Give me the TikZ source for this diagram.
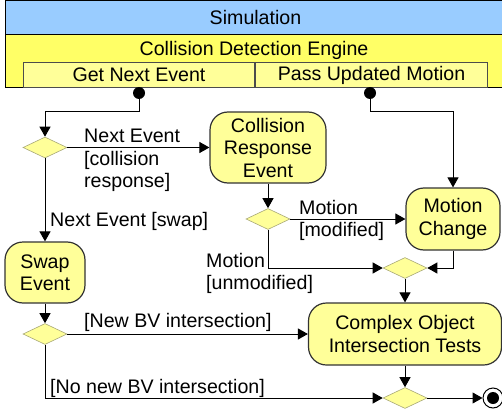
\documentclass[tikz,border=0pt]{standalone}
\usepackage{fontspec}
\setmainfont{Liberation Sans}
\usetikzlibrary{arrows.meta,positioning,shapes.geometric}
\definecolor{simblue}{HTML}{99CCFF}
\definecolor{engyellow}{HTML}{FFFF66}
\definecolor{actyellow}{HTML}{FFFF99}
\definecolor{decborder}{HTML}{A8A878}

\begin{document}
\begin{tikzpicture}[x=1pt,y=-1pt,font=\fontsize{19.6}{22.5}\selectfont]
\tikzstyle{lane}=[rectangle,draw,line width=1pt,anchor=north west,inner sep=0pt]
\tikzstyle{activity}=[rectangle,rounded corners=18pt,draw=black!80,line width=1.2pt,fill=actyellow,align=center,inner sep=0pt]
\tikzstyle{decision}=[diamond,draw=decborder,line width=0.6pt,fill=actyellow,minimum width=44pt,minimum height=21pt,inner sep=0pt]
\tikzstyle{flow}=[line width=1pt,-{Triangle[length=10pt,width=11pt]}]
\tikzstyle{startdot}=[circle,fill=black,minimum size=12pt,inner sep=0pt]
\tikzstyle{guard}=[align=left,inner sep=0pt,anchor=north west]
\useasboundingbox (0,0) rectangle (502,414);
% swimlanes
\node[lane,fill=simblue,minimum width=500pt,minimum height=34.5pt] (sim) at (5,0) {Simulation};
\node[lane,fill=engyellow,minimum width=500pt,minimum height=52.5pt] (engine) at (5,34.5) {};
\node (enginelabel) at (254,50) {Collision Detection Engine};
\node[lane,draw=black!70,fill=actyellow,minimum width=231pt,minimum height=25pt] (getnext) at (23,62) {Get Next Event};
\node[lane,draw=black!70,fill=actyellow,minimum width=232pt,minimum height=25pt] (passmotion) at (getnext.north east) {Pass Updated Motion};
% activities and decisions
\node[startdot] (start1) at (139,93) {};
\node[startdot] (start2) at (370,93) {};
\node[decision] (dnext) at (45,147.5) {};
\node[activity,minimum width=116pt,minimum height=71pt] (collresp) at (268,147.5) {Collision\\Response\\Event};
\node[activity,minimum width=80pt,minimum height=61pt] (swap) at (45,272.5) {Swap\\Event};
\node[decision] (dmotion) at (268,219) {};
\node[activity,minimum width=94pt,minimum height=62pt] (motionchg) at (453,219) {Motion\\Change};
\node[decision] (dmerge) at (405,268) {};
\node[activity,minimum width=193pt,minimum height=62pt] (complex) at (405,334) {Complex Object\\Intersection Tests};
\node[decision] (dswap) at (45,334) {};
\node[decision] (dend) at (405,398) {};
\node[circle,draw,line width=1pt,fill=white,minimum size=20pt,inner sep=0pt] (stop) at (493,398) {};
\node[startdot] (stopdot) at (stop) {};
% guards
\node[guard] (lblcoll) at (84,129) {Next Event\\{[}collision\\response]};
\node[guard] (lblswap) at (50,212) {Next Event [swap]};
\node[guard] (lblmod) at (299,200) {Motion\\{[}modified]};
\node[guard] (lblunmod) at (206,253) {Motion\\{[}unmodified]};
\node[guard] (lblnew) at (84,313) {[New BV intersection]};
\node[guard] (lblnone) at (50,379) {[No new BV intersection]};
% flows
\draw[flow] (start1) -- ++(0,19) -| (dnext);
\draw[flow] (dnext) -- (collresp);
\draw[flow] (dnext) -- (swap);
\draw[flow] (collresp) -- (dmotion);
\draw[flow] (dmotion) -- (motionchg);
\draw[flow] (start2) -- ++(0,19) -| (motionchg);
\draw[flow] (dmotion) |- (dmerge);
\draw[flow] (motionchg) |- (dmerge);
\draw[flow] (dmerge) -- (complex);
\draw[flow] (swap) -- (dswap);
\draw[flow] (dswap) -- (complex);
\draw[flow] (dswap) |- (dend);
\draw[flow] (complex) -- (dend);
\draw[flow] (dend) -- (stop);
\end{tikzpicture}
\end{document}
